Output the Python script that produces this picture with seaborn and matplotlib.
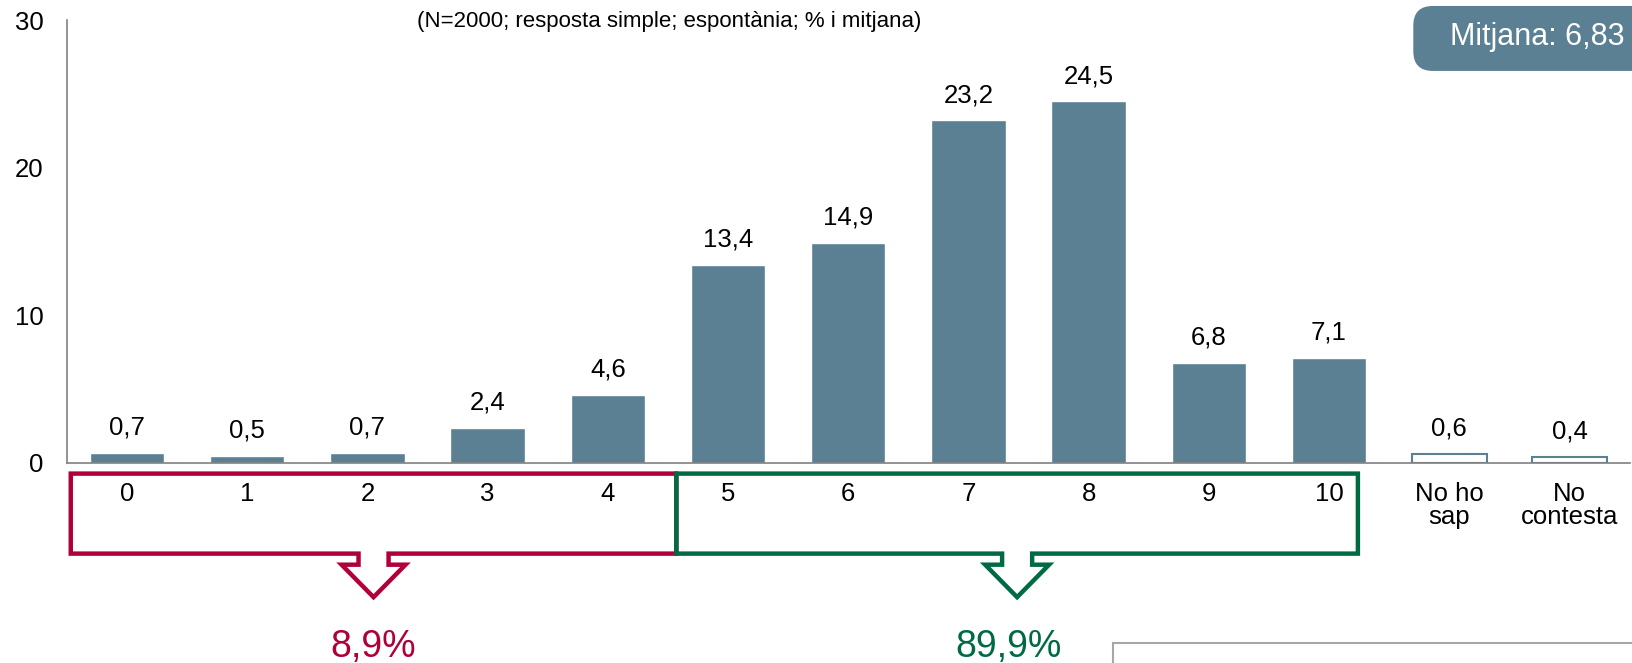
import numpy as np
import pandas as pd
import matplotlib
matplotlib.use("Agg")
import matplotlib.pyplot as plt
import seaborn as sns
from matplotlib.patches import Polygon, FancyBboxPatch, Rectangle

# data
categories = ["0", "1", "2", "3", "4", "5", "6", "7", "8", "9", "10", "No ho\nsap", "No\ncontesta"]
values = [0.7, 0.5, 0.7, 2.4, 4.6, 13.4, 14.9, 23.2, 24.5, 6.8, 7.1, 0.6, 0.4]
low_total = "8,9%"
high_total = "89,9%"
mean_label = "Mitjana: 6,83"
subtitle = "(N=2000; resposta simple; espontània; % i mitjana)"

bar_color = "#5B7F93"
red = "#B0003A"
green = "#006A43"

sns.set_style("white")
plt.rcParams["font.family"] = ["Liberation Sans", "DejaVu Sans"]
plt.rcParams["text.color"] = "black"
plt.rcParams["xtick.color"] = "black"
plt.rcParams["ytick.color"] = "black"

df = pd.DataFrame({"cat": categories, "val": values})

fig = plt.figure(figsize=(16.32, 6.63), dpi=100)
ax = fig.add_axes([0.041, 0.3017, 0.9575, 0.668])
sns.barplot(data=df, x="cat", y="val", color=bar_color, saturation=1, width=0.62, ax=ax)

# hollow bars for No ho sap / No contesta
for p in ax.patches[-2:]:
    p.set_facecolor("white")
    p.set_edgecolor(bar_color)
    p.set_linewidth(1.5)

labels = [f"{v:.1f}".replace(".", ",") for v in values]
ax.bar_label(ax.containers[0], labels=labels, padding=9.5, fontsize=18.5, color="black")

ax.set_xlim(-0.5, 12.5)
ax.set_ylim(0, 30)
ax.set_yticks([0, 10, 20, 30])
ax.set_xlabel("")
ax.set_ylabel("")
ax.tick_params(axis="y", length=0, pad=17, labelsize=18.5, labelcolor="black")
ax.tick_params(axis="x", length=0, pad=14, labelsize=18.5, labelcolor="black")
for t in ax.get_xticklabels():
    t.set_linespacing(0.95)
for s in ["top", "right"]:
    ax.spines[s].set_visible(False)
for s in ["left", "bottom"]:
    ax.spines[s].set_color("#808080")
    ax.spines[s].set_linewidth(1.2)


def bracket(x0, x1, color):
    # rectangle with an outline arrow notched into its bottom edge
    top, bot = -0.72, -6.14
    cx = (x0 + x1) / 2
    sw, hw = 0.125, 0.266
    stem, tip = bot - 0.75, bot - 2.95
    pts = [(x0, top), (x1, top), (x1, bot), (cx + sw, bot), (cx + sw, stem),
           (cx + hw, stem), (cx, tip), (cx - hw, stem), (cx - sw, stem),
           (cx - sw, bot), (x0, bot)]
    ax.add_patch(Polygon(pts, closed=True, fill=False, edgecolor=color,
                         linewidth=3.2, clip_on=False, joinstyle="miter"))
    return cx


cx_low = bracket(-0.468, 4.57, red)
cx_high = bracket(4.57, 10.24, green)
ax.text(cx_low, -12.45, low_total, color=red, fontsize=27, ha="center", va="center", clip_on=False)
ax.text(cx_high - 0.07, -12.45, high_total, color=green, fontsize=27, ha="center", va="center", clip_on=False)

fig.text(0.41, 0.967, subtitle, fontsize=16, ha="center", va="center")

# mean box
fig.patches.append(FancyBboxPatch((0.866, 0.893), 0.2, 0.098, transform=fig.transFigure,
                                  boxstyle="round,pad=0,rounding_size=0.012",
                                  facecolor=bar_color, edgecolor="none", mutation_aspect=2.46))
fig.text(0.942, 0.944, mean_label, fontsize=22, color="white", ha="center", va="center")

# grey frame at bottom right
fig.patches.append(Rectangle((0.682, -0.1), 0.4, 0.1302, transform=fig.transFigure,
                             fill=False, edgecolor="#A6A6A6", linewidth=1.5))

fig.savefig("out.png", dpi=100)
